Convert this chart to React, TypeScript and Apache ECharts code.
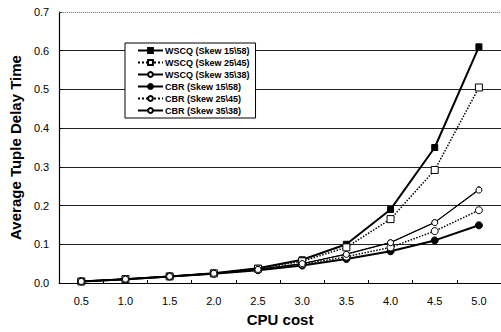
import React, { useEffect, useRef } from "react";
import * as echarts from "echarts";

const categories = ["0.5", "1.0", "1.5", "2.0", "2.5", "3.0", "3.5", "4.0", "4.5", "5.0"];
const wscq15 = [0.004, 0.01, 0.017, 0.025, 0.038, 0.06, 0.1, 0.19, 0.35, 0.61];
const wscq25 = [0.004, 0.01, 0.017, 0.025, 0.037, 0.056, 0.092, 0.165, 0.292, 0.505];
const wscq35 = [0.004, 0.01, 0.017, 0.025, 0.035, 0.05, 0.075, 0.105, 0.157, 0.242];
const cbr15 = [0.004, 0.01, 0.017, 0.024, 0.033, 0.045, 0.062, 0.082, 0.11, 0.149];
const cbr25 = [0.004, 0.01, 0.017, 0.024, 0.034, 0.048, 0.068, 0.092, 0.134, 0.188];
const cbr35 = [0.004, 0.01, 0.017, 0.025, 0.035, 0.05, 0.074, 0.104, 0.156, 0.24];
const names = [
  "WSCQ (Skew 15\\58)",
  "WSCQ (Skew 25\\45)",
  "WSCQ (Skew 35\\38)",
  "CBR (Skew 15\\58)",
  "CBR (Skew 25\\45)",
  "CBR (Skew 35\\38)",
];

export default function App() {
  const ref = useRef<HTMLDivElement>(null);
  useEffect(() => {
    if (!ref.current) return;
    const chart = echarts.init(ref.current, undefined, { renderer: "svg" });
    const font = "Liberation Sans, Arial, sans-serif";
    const mk = (
      name: string,
      data: number[],
      symbol: string,
      size: number,
      filled: boolean,
      width: number,
      type: string
    ) => ({
      name,
      type: "line",
      data,
      symbol,
      symbolSize: size,
      showSymbol: true,
      lineStyle: { color: "#000", width, type },
      itemStyle: { color: filled ? "#000" : "#fff", borderColor: "#000", borderWidth: 1 },
      z: 3,
    });
    const series: any[] = [
      mk(names[0], wscq15, "rect", 6, true, 2, "solid"),
      mk(names[1], wscq25, "rect", 7, false, 1.5, "dotted"),
      mk(names[2], wscq35, "circle", 5, false, 1, "solid"),
      mk(names[3], cbr15, "circle", 7, true, 2, "solid"),
      mk(names[4], cbr25, "circle", 7, false, 1.5, "dotted"),
      mk(names[5], cbr35, "circle", 6, false, 1, "solid"),
    ];
    series[0].markLine = {
      silent: true,
      symbol: "none",
      label: { show: false },
      lineStyle: { color: "#666", type: "dotted", width: 1 },
      data: [{ yAxis: 0.7 }],
    };
    chart.setOption({
      animation: false,
      backgroundColor: "#fff",
      grid: { left: 58, top: 12, right: 0, bottom: 48 },
      legend: {
        orient: "vertical",
        left: 125,
        top: 43,
        data: names,
        itemWidth: 25,
        itemHeight: 6,
        itemGap: 3,
        padding: [3, 6, 3, 12],
        backgroundColor: "#fff",
        borderColor: "#000",
        borderWidth: 1,
        textStyle: { fontFamily: font, fontSize: 9, fontWeight: "bold", color: "#000", padding: [0, 0, 0, -3] },
      },
      xAxis: {
        type: "category",
        data: categories,
        boundaryGap: true,
        name: "CPU cost",
        nameLocation: "middle",
        nameGap: 29,
        nameTextStyle: { fontFamily: font, fontSize: 15, fontWeight: "bold", color: "#000" },
        axisLine: { lineStyle: { color: "#000", width: 1.2 } },
        axisTick: { show: true, inside: true, length: 3, lineStyle: { color: "#000" } },
        axisLabel: { fontFamily: font, fontSize: 11, color: "#000", margin: 12 },
      },
      yAxis: {
        type: "value",
        min: 0,
        max: 0.7,
        interval: 0.1,
        name: "Average Tuple Delay Time",
        nameLocation: "middle",
        nameGap: 35,
        nameTextStyle: { fontFamily: font, fontSize: 15, fontWeight: "bold", color: "#000" },
        axisLine: { show: true, lineStyle: { color: "#000", width: 1.2 } },
        axisTick: { show: true, inside: true, length: 3, lineStyle: { color: "#000" } },
        axisLabel: { fontFamily: font, fontSize: 11, color: "#000", margin: 10, formatter: (v: number) => v.toFixed(1) },
        splitLine: {
          show: true,
          lineStyle: {
            color: ["#000", "#222", "#222", "#222", "#222", "#222", "#222", "transparent"],
            width: 1.2,
          },
        },
      },
      series,
    });
    return () => chart.dispose();
  }, []);
  return <div ref={ref} style={{ width: 501, height: 332, position: "absolute", left: 0, top: 0 }} />;
}
